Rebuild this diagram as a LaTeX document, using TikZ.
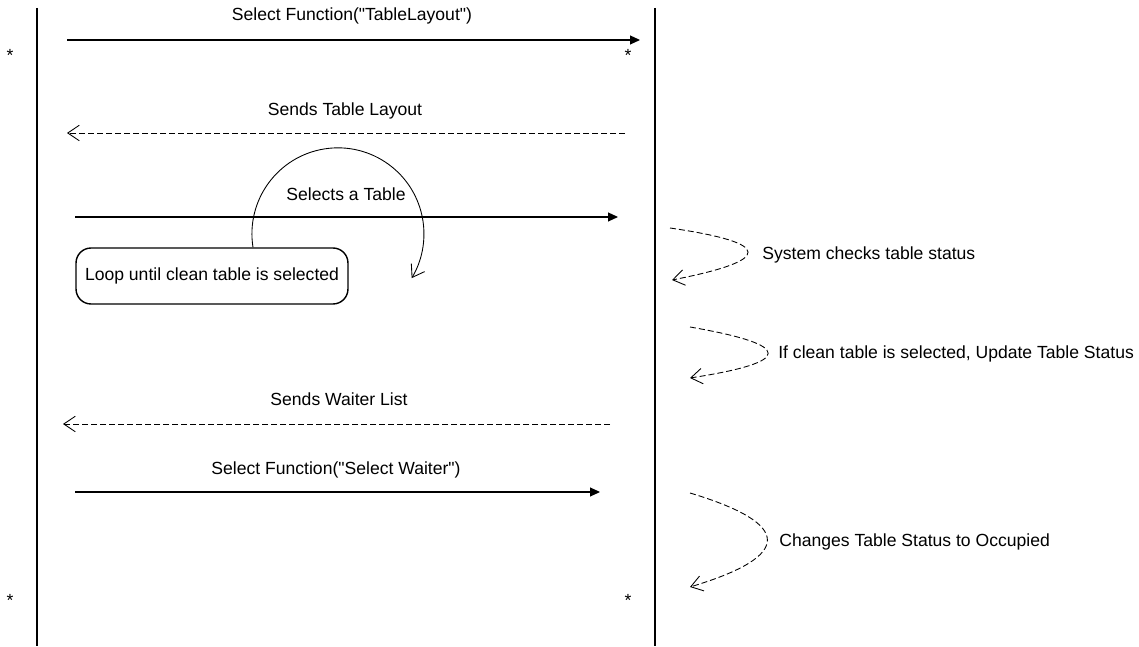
\documentclass[tikz,border=0pt]{standalone}
\usepackage{fontspec}
\setmainfont{Liberation Sans}
\usetikzlibrary{arrows.meta}
\tikzset{
	lifeline/.style={line width=0.7pt},
	call/.style={line width=0.6pt,-{Triangle[length=2mm,width=1.8mm]}},
	reply/.style={line width=0.5pt,dash pattern=on 1.2mm off 0.6mm,-{Straight Barb[length=2.3mm,width=3.1mm]}},
	selfcall/.style={reply},
	msglabel/.style={anchor=base,inner sep=0pt,font=\fontsize{10}{12}\selectfont},
	notelabel/.style={anchor=base west,inner sep=0pt,font=\fontsize{10}{12}\selectfont},
	mult/.style={anchor=base,inner sep=0pt,font=\fontsize{10}{12}\selectfont},
	loopbox/.style={draw,rounded corners=3mm,line width=0.8pt,minimum width=5.44cm,minimum height=1.12cm,inner sep=0pt,font=\fontsize{10}{12}\selectfont}
}
\begin{document}
\begin{tikzpicture}[x=0.02cm,y=0.02cm]
	\useasboundingbox (0,0) rectangle (1139,646);
	
	\coordinate (userTop) at (37,638);
	\coordinate (userBot) at (37,0);
	\coordinate (sysTop) at (655,638);
	\coordinate (sysBot) at (655,0);
	\draw[lifeline] (userTop) -- (userBot);
	\draw[lifeline] (sysTop) -- (sysBot);
	
	\node[mult] (multUserTop) at (10,584) {*};
	\node[mult] (multUserBot) at (10,40) {*};
	\node[mult] (multSysTop) at (628,584) {*};
	\node[mult] (multSysBot) at (628,40) {*};
	
	\coordinate (layoutFrom) at (67,606);
	\coordinate (layoutTo) at (640,606);
	\draw[call] (layoutFrom) -- (layoutTo);
	\node[msglabel] (layoutLbl) at (352,625) {Select Function(\textquotedbl TableLayout\textquotedbl)};
	
	\coordinate (sendFrom) at (625,513);
	\coordinate (sendTo) at (67,513);
	\draw[reply] (sendFrom) -- (sendTo);
	\node[msglabel] (sendLbl) at (345,530) {Sends Table Layout};
	
	\coordinate (tableFrom) at (75,429);
	\coordinate (tableTo) at (618,429);
	\draw[call] (tableFrom) -- (tableTo);
	\node[msglabel] (tableLbl) at (346,445) {Selects a Table};
	
	\node[loopbox] (loop) at (212,370) {Loop until clean table is selected};
	\draw[line width=0.5pt,-{Straight Barb[length=2.3mm,width=3.1mm]}] ([xshift=0.82cm]loop.north) arc[start angle=189,end angle=-31,radius=86];
	
	\coordinate (waiterFrom) at (610,222);
	\coordinate (waiterTo) at (63,222);
	\draw[reply] (waiterFrom) -- (waiterTo);
	\node[msglabel] (waiterLbl) at (339,240) {Sends Waiter List};
	
	\coordinate (pickFrom) at (75,154);
	\coordinate (pickTo) at (600,154);
	\draw[call] (pickFrom) -- (pickTo);
	\node[msglabel] (pickLbl) at (336,172) {Select Function(\textquotedbl Select Waiter\textquotedbl)};
	
	\coordinate (checkFrom) at (670,418);
	\coordinate (checkTo) at (672,366);
	\draw[selfcall] (checkFrom) .. controls (773,403) and (774,386) .. (checkTo);
	\node[notelabel] (checkLbl) at (762,386) {System checks table status};
	
	\coordinate (updateFrom) at (690,319);
	\coordinate (updateTo) at (690,268);
	\draw[selfcall] (updateFrom) .. controls (794,301) and (794,284) .. (updateTo);
	\node[notelabel] (updateLbl) at (778,287) {If clean table is selected, Update Table Status};
	
	\coordinate (occFrom) at (690,153);
	\coordinate (occTo) at (690,59);
	\draw[selfcall] (occFrom) .. controls (793,122) and (793,90) .. (occTo);
	\node[notelabel] (occLbl) at (779,100) {Changes Table Status to Occupied};
\end{tikzpicture}
\end{document}
